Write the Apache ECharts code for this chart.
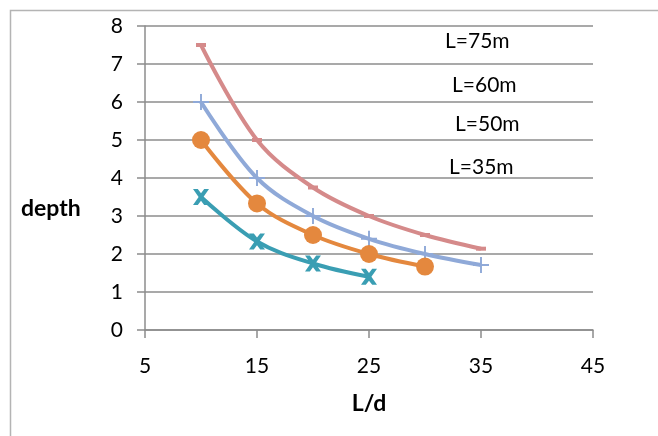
<!DOCTYPE html>
<html>
<head>
<meta charset="utf-8">
<script src="https://cdn.jsdelivr.net/npm/echarts@6/dist/echarts.min.js"></script>
<style>html,body{margin:0;padding:0;background:#fff}#c{width:658px;height:436px}</style>
</head>
<body>
<div id="c"></div>
<script>
const xL75 = [10, 15, 20, 25, 30, 35];
const yL75 = [7.5, 5, 3.75, 3, 2.5, 2.14];
const xL60 = [10, 15, 20, 25, 30, 35];
const yL60 = [6, 4, 3, 2.4, 2, 1.71];
const xL50 = [10, 15, 20, 25, 30];
const yL50 = [5, 3.33, 2.5, 2, 1.67];
const xL35 = [10, 15, 20, 25];
const yL35 = [3.5, 2.33, 1.75, 1.4];
const seriesNames = ['L=75m', 'L=60m', 'L=50m', 'L=35m'];
const xTicks = [5, 15, 25, 35, 45];
const yTicks = [0, 1, 2, 3, 4, 5, 6, 7, 8];

const pairs = (xs, ys) => xs.map((x, i) => [x, ys[i]]);
const FONT = 'Lato, "Open Sans", sans-serif';
const GRID = '#8c8c8c';

const plusPath = 'path://M4.4,0H5.6V4.4H10V5.6H5.6V10H4.4V5.6H0V4.4H4.4Z';
const xPath = 'path://M0,0H3L5,2.6L7,0H10L6.5,5L10,10H7L5,7.4L3,10H0L3.5,5Z';

const chart = echarts.init(document.getElementById('c'));
chart.setOption({
  animation: false,
  backgroundColor: '#fff',
  grid: { left: 145, right: 65, top: 26, bottom: 106, containLabel: false },
  xAxis: {
    type: 'value', min: 5, max: 45, interval: 10,
    name: 'L/d', nameLocation: 'middle', nameGap: 62,
    nameTextStyle: { fontFamily: FONT, fontSize: 23, fontWeight: 'bold', color: '#000' },
    axisLine: { show: true, onZero: false, lineStyle: { color: GRID, width: 1.5 } },
    axisTick: { show: true, length: 8, lineStyle: { color: GRID, width: 1.5 } },
    axisLabel: { margin: 26, fontFamily: FONT, fontSize: 21, color: '#000',
      formatter: v => xTicks.includes(v) ? String(v) : '' },
    splitLine: { show: false }
  },
  yAxis: {
    type: 'value', min: 0, max: 8, interval: 1,
    axisLine: { show: true, lineStyle: { color: GRID, width: 1.5 } },
    axisTick: { show: true, length: 8, lineStyle: { color: GRID, width: 1.5 } },
    axisLabel: { margin: 22, fontFamily: FONT, fontSize: 21, color: '#000',
      formatter: v => yTicks.includes(v) ? String(v) : '' },
    splitLine: { show: true, lineStyle: { color: GRID, width: 1.5 } }
  },
  graphic: [
    { type: 'rect', shape: { x: 10.5, y: 10.5, width: 700, height: 500 }, style: { fill: 'none', stroke: '#b4b4b4', lineWidth: 1.5 }, silent: true },
    { type: 'text', left: 21, top: 197, style: { text: 'depth', font: 'bold 23px ' + FONT, fill: '#000' } },
    { type: 'text', left: 445, top: 31, style: { text: seriesNames[0], font: '21px ' + FONT, fill: '#000' } },
    { type: 'text', left: 452, top: 75, style: { text: seriesNames[1], font: '21px ' + FONT, fill: '#000' } },
    { type: 'text', left: 455, top: 114, style: { text: seriesNames[2], font: '21px ' + FONT, fill: '#000' } },
    { type: 'text', left: 449, top: 157, style: { text: seriesNames[3], font: '21px ' + FONT, fill: '#000' } }
  ],
  series: [
    { name: seriesNames[0], type: 'line', smooth: 0.35, data: pairs(xL75, yL75),
      lineStyle: { color: '#d58a8a', width: 4 }, itemStyle: { color: '#d58a8a' },
      symbol: 'rect', symbolSize: [10, 4], showAllSymbol: true },
    { name: seriesNames[1], type: 'line', smooth: 0.35, data: pairs(xL60, yL60),
      lineStyle: { color: '#8fa9d8', width: 4 }, itemStyle: { color: '#8fa9d8' },
      symbol: plusPath, symbolSize: 16, showAllSymbol: true },
    { name: seriesNames[2], type: 'line', smooth: 0.35, data: pairs(xL50, yL50),
      lineStyle: { color: '#e4883e', width: 4 }, itemStyle: { color: '#e4883e' },
      symbol: 'circle', symbolSize: 18, showAllSymbol: true },
    { name: seriesNames[3], type: 'line', smooth: 0.35, data: pairs(xL35, yL35),
      lineStyle: { color: '#3a9eb3', width: 4 }, itemStyle: { color: '#3a9eb3' },
      symbol: xPath, symbolSize: 16, showAllSymbol: true }
  ]
});
</script>
</body>
</html>
